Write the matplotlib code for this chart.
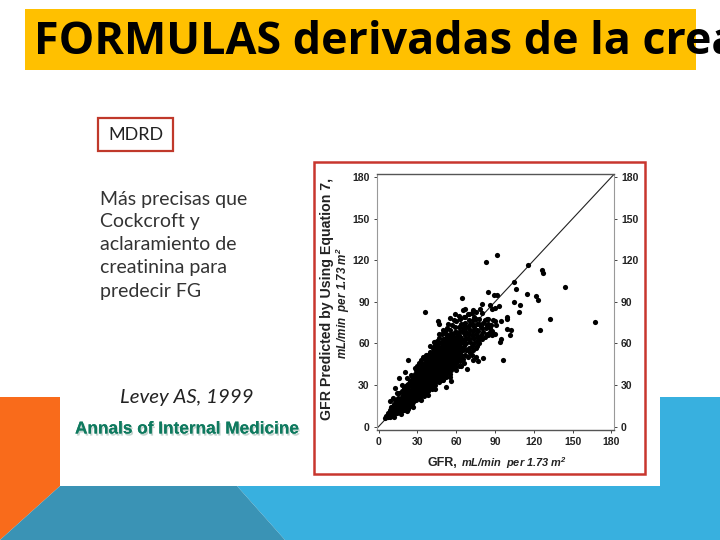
#!/usr/bin/env python3
"""Slide: MDRD formula, predicted vs measured GFR scatter."""
import matplotlib
matplotlib.use("Agg")
import matplotlib.patheffects as pe
import matplotlib.pyplot as plt
import numpy as np
from matplotlib.patches import Polygon, Rectangle

W, H = 720, 540

title = "FORMULAS derivadas de la creatinina"
body_lines = ["Más precisas que", "Cockcroft y", "aclaramiento de", "creatinina para", "predecir FG"]
ticks = [0, 30, 60, 90, 120, 150, 180]

outliers = [
    (91.3, 123.6), (82.8, 118.8), (115.2, 116.9), (126.5, 113.3), (127.2, 110.6), (104.6, 104.2),
    (144, 100.8), (106.2, 99.1), (84.6, 97.2), (89.2, 95.3), (91.8, 94.8), (114.9, 95.8),
    (122, 94), (123.1, 91.7), (64.3, 92.6), (105.1, 89.8), (109.3, 87.4), (108.7, 82.8),
    (36.2, 83), (132.4, 77.5), (167.6, 75.4), (124.7, 70), (102.6, 70), (99, 70.3),
    (101.5, 66), (96.4, 48.2), (93.8, 61), (94.3, 63.1), (99, 79), (99.5, 78),
    (92.8, 87), (90, 85.7), (86.1, 87.6), (87.4, 84.7), (80.2, 88.3), (78.4, 85.2),
    (73.3, 83.8), (66.8, 84.7), (65, 84), (59.4, 80.9), (55.3, 78.7), (46.3, 76.3),
    (47, 74.4), (81, 49.2), (77, 47.3), (73.3, 48), (75, 50.4), (68.6, 41.5),
    (52.2, 28.3), (22.9, 47.8), (20.6, 39.1), (16.2, 35.3), (12.9, 27.6), (8.5, 18.5),
    (88, 66), (83.5, 67), (91, 73), (95, 76), (88.7, 76.8), (85, 78), (86, 71), (90, 67),
]
cloud = [
    (5, 6), (6, 8), (7, 7), (7, 10), (8, 8), (9, 12), (9, 9), (10, 8), (10, 14), (11, 10),
    (12, 9), (12, 12), (12, 16), (13, 19), (14, 10), (14, 13), (14, 17), (15, 21), (15, 11), (16, 14),
    (16, 18), (16, 24), (17, 11), (17, 16), (17, 21), (18, 13), (18, 19), (18, 26), (19, 15), (19, 23),
    (20, 12), (20, 17), (20, 21), (20, 28), (21, 14), (21, 19), (21, 25), (22, 16), (22, 23), (22, 30),
    (23, 13), (23, 19), (23, 27), (24, 15), (24, 21), (24, 25), (24, 33), (25, 17), (25, 29), (25, 23),
    (26, 16), (26, 20), (26, 26), (26, 31), (26, 36), (27, 18), (27, 23), (27, 28), (27, 34), (28, 20),
    (28, 25), (28, 31), (28, 38), (29, 19), (29, 22), (29, 27), (29, 35), (29, 41), (30, 21), (30, 25),
    (30, 29), (30, 32), (30, 38), (30, 44), (31, 23), (31, 27), (31, 35), (31, 41), (32, 20), (32, 25),
    (32, 30), (32, 33), (32, 38), (32, 45), (33, 23), (33, 28), (33, 36), (33, 42), (33, 48), (34, 25),
    (34, 31), (34, 34), (34, 39), (34, 45), (35, 22), (35, 27), (35, 30), (35, 37), (35, 42), (35, 50),
    (36, 25), (36, 33), (36, 40), (36, 46), (37, 28), (37, 31), (37, 36), (37, 43), (37, 49), (38, 26),
    (38, 30), (38, 34), (38, 39), (38, 45), (38, 52), (39, 28), (39, 32), (39, 37), (39, 42), (39, 48),
    (40, 30), (40, 35), (40, 40), (40, 46), (40, 54), (41, 27), (41, 33), (41, 38), (41, 43), (41, 50),
    (42, 30), (42, 36), (42, 41), (42, 47), (42, 57), (43, 32), (43, 35), (43, 39), (43, 45), (43, 52),
    (44, 30), (44, 34), (44, 38), (44, 43), (44, 49), (44, 59), (45, 33), (45, 37), (45, 41), (45, 47),
    (45, 54), (45, 62), (46, 35), (46, 39), (46, 44), (46, 51), (46, 58), (47, 32), (47, 37), (47, 42),
    (47, 47), (47, 54), (47, 64), (48, 36), (48, 40), (48, 45), (48, 50), (48, 57), (49, 34), (49, 38),
    (49, 43), (49, 48), (49, 53), (49, 61), (49, 67), (50, 37), (50, 41), (50, 46), (50, 51), (50, 56),
    (51, 39), (51, 44), (51, 49), (51, 54), (51, 59), (51, 69), (52, 36), (52, 42), (52, 47), (52, 52),
    (52, 57), (52, 64), (53, 39), (53, 45), (53, 50), (53, 55), (53, 60), (53, 71), (54, 42), (54, 47),
    (54, 52), (54, 58), (54, 66), (55, 38), (55, 44), (55, 49), (55, 54), (55, 61), (55, 70), (56, 41),
    (56, 46), (56, 51), (56, 57), (56, 63), (57, 43), (57, 48), (57, 53), (57, 59), (57, 67), (57, 73),
    (58, 45), (58, 50), (58, 55), (58, 61), (59, 43), (59, 47), (59, 52), (59, 57), (59, 64), (59, 72),
    (60, 46), (60, 50), (60, 55), (60, 60), (60, 68), (60, 76), (61, 48), (61, 53), (61, 58), (61, 63),
    (62, 44), (62, 51), (62, 56), (62, 66), (62, 72), (63, 47), (63, 54), (63, 60), (63, 69), (63, 78),
    (64, 52), (64, 57), (64, 64), (64, 74), (65, 49), (65, 55), (65, 61), (65, 68), (66, 46), (66, 58),
    (66, 71), (66, 79), (67, 52), (67, 63), (67, 75), (68, 55), (68, 60), (68, 68), (69, 50), (69, 64),
    (69, 72), (69, 81), (70, 57), (70, 67), (70, 77), (71, 53), (71, 61), (71, 70), (72, 58), (72, 74),
    (72, 82), (73, 55), (73, 64), (73, 69), (74, 60), (74, 72), (74, 79), (75, 67), (75, 57), (75, 83),
    (76, 62), (76, 74), (77, 65), (77, 69), (78, 60), (78, 78), (79, 66), (79, 72), (80, 63), (80, 82),
    (81, 68), (81, 75), (82, 65), (83, 71), (84, 78), (85, 66), (85, 74), (87, 73), (88, 69), (90, 76),
]
# second pass over the solid core of the cloud, where the marks overlap
core = [
    (8, 10), (9, 7), (11, 8), (11, 13), (13, 11), (13, 15), (15, 14), (15, 18), (17, 13), (17, 19),
    (19, 12), (19, 18), (19, 26), (21, 16), (21, 22), (21, 29), (23, 16), (23, 22), (23, 25), (23, 31),
    (25, 20), (25, 26), (25, 33), (26, 23), (26, 29), (27, 20), (27, 26), (27, 31), (28, 22), (28, 28),
    (28, 35), (29, 24), (29, 30), (29, 33), (29, 38), (30, 23), (30, 27), (30, 35), (30, 41), (31, 21),
    (31, 25), (31, 30), (31, 33), (31, 38), (32, 23), (32, 28), (32, 35), (32, 41), (33, 25), (33, 31),
    (33, 34), (33, 39), (33, 45), (34, 23), (34, 28), (34, 36), (34, 42), (35, 25), (35, 33), (35, 39),
    (35, 45), (36, 28), (36, 30), (36, 36), (36, 43), (36, 49), (37, 25), (37, 33), (37, 39), (37, 46),
    (38, 28), (38, 32), (38, 37), (38, 42), (38, 48), (39, 30), (39, 35), (39, 40), (39, 45), (39, 51),
    (40, 28), (40, 32), (40, 38), (40, 43), (40, 49), (41, 30), (41, 35), (41, 41), (41, 46), (41, 53),
    (42, 33), (42, 39), (42, 44), (42, 50), (42, 54), (43, 30), (43, 37), (43, 42), (43, 48), (43, 56),
    (44, 36), (44, 41), (44, 46), (44, 52), (44, 55), (45, 35), (45, 39), (45, 44), (45, 50), (45, 57),
    (46, 37), (46, 42), (46, 47), (46, 54), (46, 61), (47, 35), (47, 40), (47, 45), (47, 50), (47, 57),
    (48, 34), (48, 38), (48, 43), (48, 48), (48, 53), (48, 60), (49, 36), (49, 41), (49, 46), (49, 51),
    (49, 57), (50, 39), (50, 44), (50, 49), (50, 54), (50, 59), (50, 63), (51, 37), (51, 42), (51, 47),
    (51, 52), (51, 57), (51, 63), (52, 40), (52, 45), (52, 50), (52, 55), (52, 60), (52, 67), (53, 42),
    (53, 47), (53, 53), (53, 58), (53, 64), (54, 40), (54, 45), (54, 50), (54, 55), (54, 61), (55, 41),
    (55, 47), (55, 52), (55, 57), (55, 64), (56, 43), (56, 49), (56, 54), (56, 60), (56, 67), (57, 45),
    (57, 51), (57, 56), (57, 62), (58, 43), (58, 48), (58, 53), (58, 58), (58, 65), (59, 50), (59, 55),
    (59, 60), (59, 68), (60, 48), (60, 53), (60, 58), (60, 64), (61, 51), (61, 56), (61, 61), (61, 67),
    (62, 48), (62, 54), (62, 59), (62, 63), (63, 51), (63, 57), (63, 64), (64, 49), (64, 55), (64, 61),
]
# loose marks along both edges and in the upper part of the cloud
fringe = [
    (11, 21), (14, 24), (18, 30), (22, 35), (25, 37), (28, 42), (31, 46), (34, 50), (37, 52), (40, 58),
    (43, 61), (47, 67), (50, 70), (54, 74), (58, 77), (62, 80), (67, 79), (70, 81), (75, 78), (66, 74),
    (68, 72), (71, 74), (73, 77), (76, 70), (78, 74), (80, 71), (82, 77), (84, 73), (86, 68), (65, 71),
    (67, 66), (70, 63), (72, 66), (74, 64), (76, 58), (78, 63), (72, 52), (69, 55), (64, 44), (60, 41),
    (55, 36), (50, 34), (44, 27), (38, 23), (33, 19), (27, 14), (22, 11), (17, 9), (12, 7), (56, 33),
]

fig = plt.figure(figsize=(W / 100, H / 100), dpi=100, facecolor="white")
bg = fig.add_axes([0, 0, 1, 1])
bg.set_xlim(0, W)
bg.set_ylim(H, 0)
bg.axis("off")

# slide decoration
bg.add_patch(Polygon([(0, 397), (60, 397), (60, 486), (0, 540)], fc="#F96B1B", ec="none"))
bg.add_patch(Polygon([(660, 397), (720, 397), (720, 540), (285, 540), (237, 486), (660, 486)], fc="#38B0DF", ec="none"))
bg.add_patch(Polygon([(60, 486), (237, 486), (285, 540), (0, 540)], fc="#3A93B5", ec="none"))

# title band, text runs off the slide
bg.add_patch(Rectangle((25, 9), 671, 61, fc="#FFC000", ec="none"))
bg.text(34, 42, title, family="Open Sans", weight="bold", fontsize=32.3, color="black", va="center", ha="left")

# left column
bg.add_patch(Rectangle((98, 118), 75, 33, fc="white", ec="#C0392B", lw=1.6))
bg.text(136, 134.5, "MDRD", family="Lato", fontsize=13, color="#222222", ha="center", va="center")
for line, y in zip(body_lines, [199, 222, 245, 268, 291]):
    bg.text(100, y, line, family="Lato", fontsize=14, color="#333333", ha="left", va="center")
bg.text(120, 397, "Levey AS, 1999", family="Lato", style="italic", fontsize=14.7, color="#222222", ha="left", va="center")
bg.text(75, 429, "Annals of Internal Medicine", family="Liberation Sans", weight="bold",
        fontsize=12.4, color="#0F7A5F", ha="left", va="center",
        path_effects=[pe.withSimplePatchShadow(offset=(1, -1.5), shadow_rgbFace="#9DB8AF", alpha=0.6), pe.Normal()])

# chart frame
bg.add_patch(Rectangle((314, 162), 331, 312, fc="white", ec="#C8362E", lw=1.8))

left, right, top, bottom = 376.7, 614, 174.3, 430
ax = fig.add_axes([left / W, 1 - bottom / H, (right - left) / W, (bottom - top) / H])
ax.set_xlim(-1.4, 182)
ax.set_ylim(-2.4, 182)
ax.plot([-1.4, 182], [-1.4, 182], color="#222222", lw=0.8, zorder=2)

pts = np.array(cloud + core + fringe + outliers)
ax.scatter(pts[:, 0], pts[:, 1], s=14, color="black", linewidths=0, zorder=3)

ax.set_xticks(ticks)
ax.set_yticks(ticks)
ax.tick_params(axis="both", length=2.5, width=0.7, color="#444444", pad=2.5, labelsize=7.5, labelcolor="#222222",
               left=True, right=True, labelright=True)
for lab in ax.get_xticklabels() + ax.get_yticklabels():
    lab.set_family("Liberation Sans")
    lab.set_weight("bold")
for side in ["left", "right"]:
    ax.spines[side].set_color("#999999")
    ax.spines[side].set_linewidth(0.8)
for side in ["top", "bottom"]:
    ax.spines[side].set_color("#555555")
    ax.spines[side].set_linewidth(1.0)

sans = "Liberation Sans"
bg.text(327, 299, "GFR Predicted by Using Equation 7,", family=sans, weight="bold", fontsize=10.2, color="#222222",
        rotation=90, ha="center", va="center")
bg.text(343, 303, "mL/min  per 1.73 $\\mathregular{m^2}$", family=sans, weight="bold", style="italic", fontsize=8.4,
        color="#222222", rotation=90, ha="center", va="center")
bg.text(427, 463, "GFR,", family=sans, weight="bold", fontsize=9, color="#222222", ha="left", va="center")
bg.text(461, 463, "mL/min  per 1.73 $\\mathregular{m^2}$", family=sans, weight="bold", style="italic", fontsize=7.9,
        color="#222222", ha="left", va="center")

fig.savefig("out.png", dpi=100, facecolor="white")
